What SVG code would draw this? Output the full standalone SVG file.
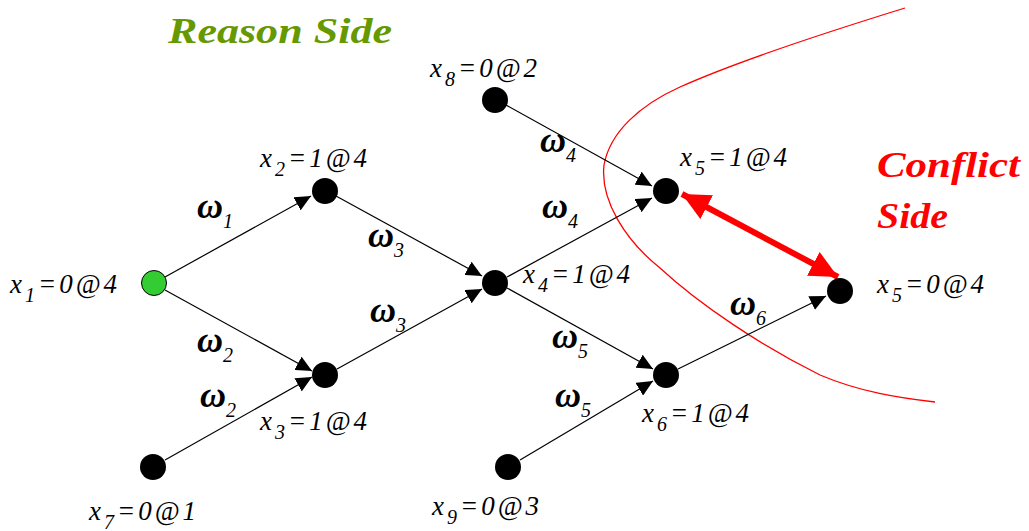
<svg xmlns="http://www.w3.org/2000/svg" width="1029" height="531" viewBox="0 0 1029 531">
<style>
.lbl{font-family:'Liberation Serif','Times New Roman','DejaVu Serif',serif;font-style:italic;font-size:27px;fill:#000;letter-spacing:3px}
.sub{font-size:20px}
.w{font-family:'Liberation Serif','Times New Roman','DejaVu Serif',serif;font-style:italic;font-weight:bold;font-size:36px;fill:#000}
.ws{font-size:20px;font-weight:normal}
.edge{stroke:#000;stroke-width:1.2;fill:none;marker-end:url(#ah)}
.node{fill:#000}
.title{font-family:'Liberation Serif','Times New Roman','DejaVu Serif',serif;font-style:italic;font-weight:bold;font-size:36px}
</style>
<defs>
<marker id="ah" markerUnits="userSpaceOnUse" markerWidth="17" markerHeight="15" refX="16" refY="7.5" orient="auto">
<path d="M0,0 L16,7.5 L0,15 Z" fill="#000"/>
</marker>
<marker id="rh" markerUnits="userSpaceOnUse" markerWidth="29" markerHeight="27" refX="28" refY="13.5" orient="auto-start-reverse">
<path d="M0,0 L28,13.5 L0,27 Z" fill="#f00"/>
</marker>
</defs>
<rect width="1029" height="531" fill="#fff"/>
<text class="title" x="168" y="43" fill="#669900" textLength="224" lengthAdjust="spacingAndGlyphs">Reason Side</text>
<text class="title" x="877" y="177" fill="#f00" textLength="143" lengthAdjust="spacingAndGlyphs">Conflict</text>
<text class="title" x="877" y="228" fill="#f00" textLength="71" lengthAdjust="spacingAndGlyphs">Side</text>
<path d="M905,8 C850,25 740,60 680,87 C640,105 610,132 604,165 C600,200 625,240 660,268 C700,305 760,345 820,375 C860,392 900,398 935,402" fill="none" stroke="#f00" stroke-width="1.3"/>
<g id="connectors">
<line class="edge" x1="165" y1="277" x2="311" y2="196"/>
<line class="edge" x1="165" y1="290" x2="312" y2="371"/>
<line class="edge" x1="165" y1="460" x2="312" y2="377"/>
<line class="edge" x1="336" y1="196" x2="482" y2="276"/>
<line class="edge" x1="337" y1="369" x2="482" y2="289"/>
<line class="edge" x1="506" y1="105" x2="652" y2="186"/>
<line class="edge" x1="507" y1="277" x2="652" y2="198"/>
<line class="edge" x1="507" y1="288" x2="653" y2="369"/>
<line class="edge" x1="520" y1="460" x2="653" y2="381"/>
<line class="edge" x1="678" y1="369" x2="826" y2="296"/>
<line x1="682" y1="194" x2="838" y2="277" stroke="#f00" stroke-width="6" marker-start="url(#rh)" marker-end="url(#rh)"/>
</g>
<g id="x1"><circle cx="154" cy="283" r="12.5" fill="#33cc33" stroke="#000" stroke-width="1"/><text class="lbl" x="10" y="293">x<tspan class="sub" dy="9">1</tspan><tspan dy="-9">=0@4</tspan></text></g>
<g id="x2"><circle class="node" cx="325" cy="191" r="13"/><text class="lbl" x="260" y="167">x<tspan class="sub" dy="9">2</tspan><tspan dy="-9">=1@4</tspan></text></g>
<g id="x3"><circle class="node" cx="325" cy="375" r="13"/><text class="lbl" x="260" y="430">x<tspan class="sub" dy="9">3</tspan><tspan dy="-9">=1@4</tspan></text></g>
<g id="x4"><circle class="node" cx="495" cy="283" r="13"/><text class="lbl" x="523" y="283">x<tspan class="sub" dy="9">4</tspan><tspan dy="-9">=1@4</tspan></text></g>
<g id="x5a"><circle class="node" cx="666" cy="191" r="13"/><text class="lbl" x="680" y="166">x<tspan class="sub" dy="9">5</tspan><tspan dy="-9">=1@4</tspan></text></g>
<g id="x5b"><circle class="node" cx="840" cy="291" r="13"/><text class="lbl" x="877" y="293">x<tspan class="sub" dy="9">5</tspan><tspan dy="-9">=0@4</tspan></text></g>
<g id="x6"><circle class="node" cx="666" cy="375" r="13"/><text class="lbl" x="642" y="422">x<tspan class="sub" dy="9">6</tspan><tspan dy="-9">=1@4</tspan></text></g>
<g id="x7"><circle class="node" cx="153" cy="467" r="13"/><text class="lbl" x="89" y="520">x<tspan class="sub" dy="9">7</tspan><tspan dy="-9">=0@1</tspan></text></g>
<g id="x8"><circle class="node" cx="495" cy="100" r="13"/><text class="lbl" x="430" y="77">x<tspan class="sub" dy="9">8</tspan><tspan dy="-9">=0@2</tspan></text></g>
<g id="x9"><circle class="node" cx="508" cy="467" r="13"/><text class="lbl" x="432" y="515">x<tspan class="sub" dy="9">9</tspan><tspan dy="-9">=0@3</tspan></text></g>
<g id="weights">
<text class="w" x="197" y="218">ω<tspan class="ws" dy="10">1</tspan></text>
<text class="w" x="368" y="247">ω<tspan class="ws" dy="10">3</tspan></text>
<text class="w" x="197" y="352">ω<tspan class="ws" dy="10">2</tspan></text>
<text class="w" x="200" y="407">ω<tspan class="ws" dy="10">2</tspan></text>
<text class="w" x="370" y="322">ω<tspan class="ws" dy="10">3</tspan></text>
<text class="w" x="540" y="152">ω<tspan class="ws" dy="10">4</tspan></text>
<text class="w" x="542" y="218">ω<tspan class="ws" dy="10">4</tspan></text>
<text class="w" x="552" y="348">ω<tspan class="ws" dy="10">5</tspan></text>
<text class="w" x="555" y="407">ω<tspan class="ws" dy="10">5</tspan></text>
<text class="w" x="730" y="315">ω<tspan class="ws" dy="10">6</tspan></text>
</g>
</svg>
